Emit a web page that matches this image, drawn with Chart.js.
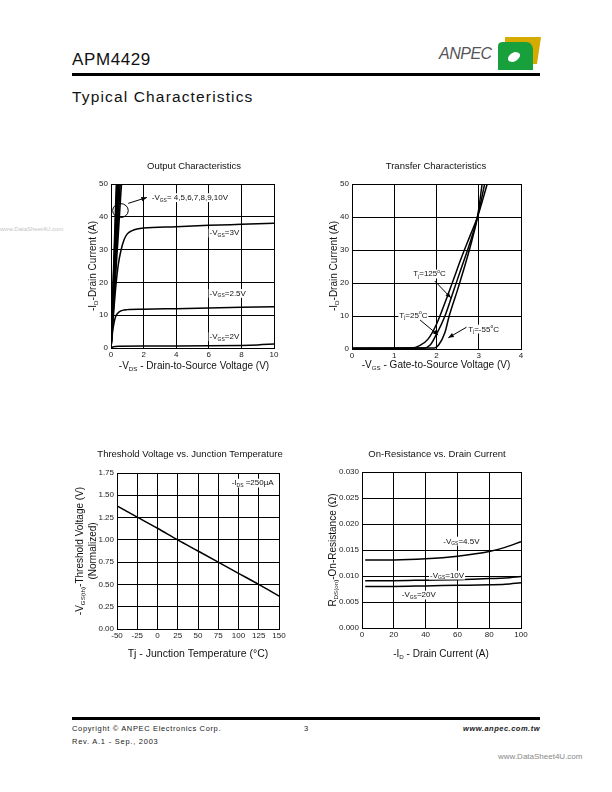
<!DOCTYPE html>
<html><head><meta charset="utf-8">
<script src="https://cdn.jsdelivr.net/npm/chart.js@4.4.1/dist/chart.umd.min.js"></script>
<style>
html,body{margin:0;padding:0;background:#fff;}
body{width:612px;height:792px;position:relative;overflow:hidden;font-family:'Liberation Sans',Arial,sans-serif;}
canvas.c{position:absolute;left:0;top:0;}
.t{position:absolute;white-space:nowrap;color:#111;line-height:1;}
</style></head><body>
<div class="t" style="left:72px;top:51px;font-size:17px;letter-spacing:0.6px;">APM4429</div>
<div style="position:absolute;left:72px;top:73px;width:468px;height:2.5px;background:#000;"></div>
<div class="t" style="left:72px;top:89px;font-size:15.5px;letter-spacing:1.15px;">Typical Characteristics</div>
<div class="t" style="left:439px;top:46px;font-size:16px;font-style:italic;color:#555;letter-spacing:-0.5px;">ANPEC</div>
<svg style="position:absolute;left:497px;top:36px;" width="44" height="36" viewBox="0 0 44 36">
<path d="M8 1 L44 1 L40 28 L36 28 Q35 9 8 7 Z" fill="#d6ab00"/>
<path d="M1 10 Q1 6 6 6 L29 6 Q35 6 36 13 L36 34 L1 34 Z" fill="#17a03c"/>
<ellipse cx="17" cy="21" rx="6.5" ry="4.2" transform="rotate(-30 17 21)" fill="#fff"/>
</svg>
<div class="t" style="left:0px;top:226px;font-size:6px;color:#c4c4c4;">www.DataSheet4U.com</div>
<div style="position:absolute;left:72px;top:717px;width:468px;height:2.5px;background:#000;"></div>
<div class="t" style="left:72px;top:725px;font-size:7.5px;letter-spacing:0.65px;color:#222;">Copyright © ANPEC Electronics Corp.</div>
<div class="t" style="left:304px;top:725px;font-size:7.5px;color:#222;">3</div>
<div class="t" style="right:72px;top:725px;font-size:7.5px;font-style:italic;font-weight:bold;letter-spacing:0.5px;color:#222;">www.anpec.com.tw</div>
<div class="t" style="left:72px;top:738px;font-size:7.5px;letter-spacing:0.75px;color:#222;">Rev. A.1 - Sep., 2003</div>
<div class="t" style="left:498px;top:753px;font-size:8px;color:#888;">www.DataSheet4U.com</div>
<canvas id="c1" class="c" width="612" height="792"></canvas>
<canvas id="c2" class="c" width="612" height="792"></canvas>
<canvas id="c3" class="c" width="612" height="792"></canvas>
<canvas id="c4" class="c" width="612" height="792"></canvas>
<script>
// ---------- DATA ----------
// Output characteristics (-VDS in V, -ID in A)
const outXTicks = [0,2,4,6,8,10];
const outYTicks = [0,10,20,30,40,50];
const vgsHighLabels = ['4V','5V','6V','7V','8V','9V','10V'];
const vgsHighVdsAt50A = [0.64,0.56,0.49,0.44,0.40,0.36,0.33];
const vgs3Vds = [0,0.15,0.3,0.45,0.6,0.8,1.0,1.3,1.6,2,4,6,8,10];
const vgs3Id  = [0,10,19,25.5,29.5,33,34.8,35.8,36.3,36.6,37.0,37.4,37.7,38.0];
const vgs25Vds = [0,0.1,0.2,0.3,0.5,0.8,1,2,4,6,8,10];
const vgs25Id  = [0,5,8,9.8,11,11.6,11.7,11.8,12.0,12.2,12.4,12.6];
const vgs2Vds = [0,0.15,0.5,2,4,6,8,9,10];
const vgs2Id  = [0,0.4,0.55,0.6,0.6,0.65,0.8,0.95,1.2];

// Transfer characteristics (-VGS in V, -ID in A)
const trXTicks = [0,1,2,3,4];
const trYTicks = [0,10,20,30,40,50];
const tj125Vgs = [0,1.4,1.6,1.8,2.0,2.2,2.4,2.6,2.8,2.97,3.1,3.2];
const tj125Id  = [0.2,0.3,1,3,7.5,14,21,28,34.5,40,45.5,50];
const tj25Vgs  = [0,1.7,1.85,2.0,2.2,2.4,2.6,2.8,2.97,3.14];
const tj25Id   = [0.2,0.3,1.2,4.5,10,17.5,25,32.5,40,50];
const tjm55Vgs = [0,1.95,2.05,2.2,2.3,2.5,2.7,2.85,2.97,3.08];
const tjm55Id  = [0.2,0.3,1.2,5,10,18,26.5,33.5,40,50];

// Threshold voltage vs junction temperature
const thXTicks = [-50,-25,0,25,50,75,100,125,150];
const thYTicks = [0,0.25,0.5,0.75,1.0,1.25,1.5,1.75];
const thTemp = [-50,-25,0,25,50,75,100,125,150];
const thVgs  = [1.38,1.255,1.13,1.0,0.875,0.75,0.625,0.5,0.37];

// On-resistance vs drain current
const orXTicks = [0,20,40,60,80,100];
const orYTicks = [0,0.005,0.010,0.015,0.020,0.025,0.030];
const orId   = [2,20,40,60,80,90,100];
const orR45  = [0.0131,0.0131,0.0133,0.0138,0.0147,0.0155,0.0166];
const orR10  = [0.0091,0.0091,0.0092,0.0093,0.0095,0.0096,0.0099];
const orR20  = [0.0080,0.0080,0.0081,0.0082,0.0083,0.0084,0.0087];

// ---------- helpers ----------
const FAM = "'Liberation Sans', Arial, sans-serif";
Chart.defaults.font.family = FAM;
Chart.defaults.color = '#111';
const pts = (xs, ys) => xs.map((x, i) => ({x, y: ys[i]}));
function line(data, w) {
  return {data, showLine:true, pointRadius:0, borderColor:'#000', borderWidth:w||1.5,
    fill:false, cubicInterpolationMode:'monotone'};
}
function richW(ctx, parts, fs) {
  let w = 0;
  for (const [t, m] of parts) { ctx.font = (m ? fs*0.62 : fs) + 'px ' + FAM; w += ctx.measureText(t).width; }
  return w;
}
function drawRich(ctx, parts, x, y, fs, o) {
  o = o || {};
  ctx.save();
  ctx.translate(x, y);
  if (o.rot) ctx.rotate(o.rot);
  const w = richW(ctx, parts, fs);
  let cx = o.align === 'center' ? -w/2 : (o.align === 'right' ? -w : 0);
  if (o.bg) { ctx.fillStyle = '#fff'; ctx.fillRect(cx-1, -fs*0.85, w+2, fs*1.1); }
  ctx.fillStyle = '#111'; ctx.textAlign = 'left'; ctx.textBaseline = 'alphabetic';
  for (const [t, m] of parts) {
    const f = m ? fs*0.62 : fs;
    ctx.font = f + 'px ' + FAM;
    const dy = m === 1 ? fs*0.2 : (m === 2 ? -fs*0.45 : 0);
    ctx.fillText(t, cx, dy);
    cx += ctx.measureText(t).width;
  }
  ctx.restore();
}
function arrow(ctx, x1, y1, x2, y2) {
  ctx.save();
  ctx.strokeStyle = '#000'; ctx.fillStyle = '#000'; ctx.lineWidth = 1;
  ctx.beginPath(); ctx.moveTo(x1, y1); ctx.lineTo(x2, y2); ctx.stroke();
  const a = Math.atan2(y2-y1, x2-x1), L = 5.5, W = 2.2;
  ctx.beginPath();
  ctx.moveTo(x2, y2);
  ctx.lineTo(x2 - L*Math.cos(a) + W*Math.sin(a), y2 - L*Math.sin(a) - W*Math.cos(a));
  ctx.lineTo(x2 - L*Math.cos(a) - W*Math.sin(a), y2 - L*Math.sin(a) + W*Math.cos(a));
  ctx.closePath(); ctx.fill();
  ctx.restore();
}
// overlay: texts (page coords), labels (data coords), arrows (data coords), ellipses
function overlay(spec) {
  return { id:'ov', afterDraw(chart) {
    const ctx = chart.ctx, sx = chart.scales.x, sy = chart.scales.y;
    (spec.texts||[]).forEach(t => drawRich(ctx, t.parts, t.x, t.y, t.fs, t));
    (spec.labels||[]).forEach(t => drawRich(ctx, t.parts, sx.getPixelForValue(t.x), sy.getPixelForValue(t.y), t.fs||8, {bg:true}));
    (spec.ellipses||[]).forEach(e => {
      ctx.save(); ctx.strokeStyle='#000'; ctx.lineWidth=1;
      ctx.beginPath(); ctx.ellipse(sx.getPixelForValue(e.x), sy.getPixelForValue(e.y), e.rx, e.ry, 0, 0, Math.PI*2); ctx.stroke();
      ctx.restore();
    });
    (spec.arrows||[]).forEach(a => arrow(ctx, sx.getPixelForValue(a[0]), sy.getPixelForValue(a[1]), sx.getPixelForValue(a[2]), sy.getPixelForValue(a[3])));
  }};
}
function makeChart(id, area, xcfg, ycfg, datasets, spec) {
  const WY = 30, HX = 13;
  const tickFont = {size: 8, family: FAM};
  const axis = (c, isX) => ({
    type:'linear', min:c.ticks[0], max:c.ticks[c.ticks.length-1],
    afterBuildTicks: s => { s.ticks = c.ticks.map(v => ({value:v})); },
    ticks:{font:tickFont, color:'#222', padding: isX ? 2 : 3, callback: c.fmt, maxRotation:0, autoSkip:false},
    grid:{color:'#000', lineWidth:1, drawTicks:false},
    border:{color:'#000', width:1},
    afterFit: s => { if (isX) s.height = HX; else s.width = WY; }
  });
  return new Chart(document.getElementById(id), {
    type:'scatter',
    data:{datasets},
    options:{
      responsive:false, animation:false, events:[],
      layout:{padding:{left:area.l-WY, top:area.t, right:612-area.r, bottom:792-area.b-HX}},
      plugins:{legend:{display:false}, tooltip:{enabled:false}},
      scales:{x:axis(xcfg, true), y:axis(ycfg, false)}
    },
    plugins:[overlay(spec)]
  });
}
const VGS = (rest) => [['-V',0],['GS',1],[rest,0]];
const TJ = (num) => [['T',0],['j',1],['='+num,0],['o',2],['C',0]];

// ---------- Chart 1: Output Characteristics ----------
const c1sets = vgsHighVdsAt50A.map(v => line(pts([0, v], [0, 50]), 1.6));
c1sets.push(line(pts(vgs3Vds, vgs3Id)), line(pts(vgs25Vds, vgs25Id)), line(pts(vgs2Vds, vgs2Id)));
makeChart('c1', {l:111, r:274, t:184, b:348},
  {ticks:outXTicks, fmt:v => String(v)}, {ticks:outYTicks, fmt:v => String(v)}, c1sets, {
  texts:[
    {parts:[['Output Characteristics',0]], x:194, y:169, fs:9.5, align:'center'},
    {parts:[['-V',0],['DS',1],[' - Drain-to-Source Voltage (V)',0]], x:194, y:369, fs:10, align:'center'},
    {parts:[['-I',0],['D',1],['-Drain Current (A)',0]], x:96, y:266, fs:10, align:'center', rot:-Math.PI/2}
  ],
  labels:[
    {parts:VGS('= 4,5,6,7,8,9,10V'), x:2.5, y:45.1},
    {parts:VGS('=3V'), x:6.05, y:34.3},
    {parts:VGS('=2.5V'), x:6.05, y:15.9},
    {parts:VGS('=2V'), x:6.05, y:2.7}
  ],
  ellipses:[{x:0.58, y:41.9, rx:7.8, ry:7}],
  arrows:[[1.06, 44.1, 2.2, 45.9]]
});

// ---------- Chart 2: Transfer Characteristics ----------
makeChart('c2', {l:352, r:521, t:184, b:349},
  {ticks:trXTicks, fmt:v => String(v)}, {ticks:trYTicks, fmt:v => String(v)},
  [line(pts(tj125Vgs, tj125Id)), line(pts(tj25Vgs, tj25Id)), line(pts(tjm55Vgs, tjm55Id))], {
  texts:[
    {parts:[['Transfer Characteristics',0]], x:436, y:169, fs:9.5, align:'center'},
    {parts:[['-V',0],['GS',1],[' - Gate-to-Source Voltage (V)',0]], x:436, y:368, fs:10, align:'center'},
    {parts:[['-I',0],['D',1],['-Drain Current (A)',0]], x:337, y:266, fs:10, align:'center', rot:-Math.PI/2}
  ],
  labels:[
    {parts:TJ('125'), x:1.45, y:22},
    {parts:TJ('25'), x:1.12, y:9.5},
    {parts:TJ('-55'), x:2.75, y:5.3}
  ],
  arrows:[[1.96, 20.6, 2.34, 15.5],[1.61, 8.8, 2.04, 4.2],[2.71, 6.6, 2.28, 3.4]]
});

// ---------- Chart 3: Threshold Voltage vs Junction Temperature ----------
makeChart('c3', {l:117, r:279, t:473, b:629},
  {ticks:thXTicks, fmt:v => String(v)}, {ticks:thYTicks, fmt:v => v.toFixed(2)},
  [line(pts(thTemp, thVgs))], {
  texts:[
    {parts:[['Threshold Voltage vs. Junction Temperature',0]], x:190, y:457, fs:9.5, align:'center'},
    {parts:[['Tj - Junction Temperature (°C)',0]], x:198, y:657, fs:10.5, align:'center'},
    {parts:[['-V',0],['GS(th)',1],['-Threshold Voltage (V)',0]], x:83, y:551, fs:10, align:'center', rot:-Math.PI/2},
    {parts:[['(Normalized)',0]], x:96, y:551, fs:10, align:'center', rot:-Math.PI/2}
  ],
  labels:[{parts:[['-I',0],['DS',1],[' =250µA',0]], x:91.6, y:1.61}]
});

// ---------- Chart 4: On-Resistance vs Drain Current ----------
makeChart('c4', {l:362, r:521, t:472, b:628},
  {ticks:orXTicks, fmt:v => String(v)}, {ticks:orYTicks, fmt:v => v.toFixed(3)},
  [line(pts(orId, orR45)), line(pts(orId, orR10)), line(pts(orId, orR20))], {
  texts:[
    {parts:[['On-Resistance vs. Drain Current',0]], x:437, y:457, fs:9.5, align:'center'},
    {parts:[['-I',0],['D',1],[' - Drain Current (A)',0]], x:441, y:657, fs:10, align:'center'},
    {parts:[['R',0],['DS(on)',1],['-On-Resistance (Ω)',0]], x:336, y:550, fs:10, align:'center', rot:-Math.PI/2}
  ],
  labels:[
    {parts:VGS('=4.5V'), x:51.1, y:0.01625},
    {parts:VGS('=10V'), x:42.8, y:0.0097},
    {parts:VGS('=20V'), x:25, y:0.00587}
  ]
});
</script>
</body></html>
